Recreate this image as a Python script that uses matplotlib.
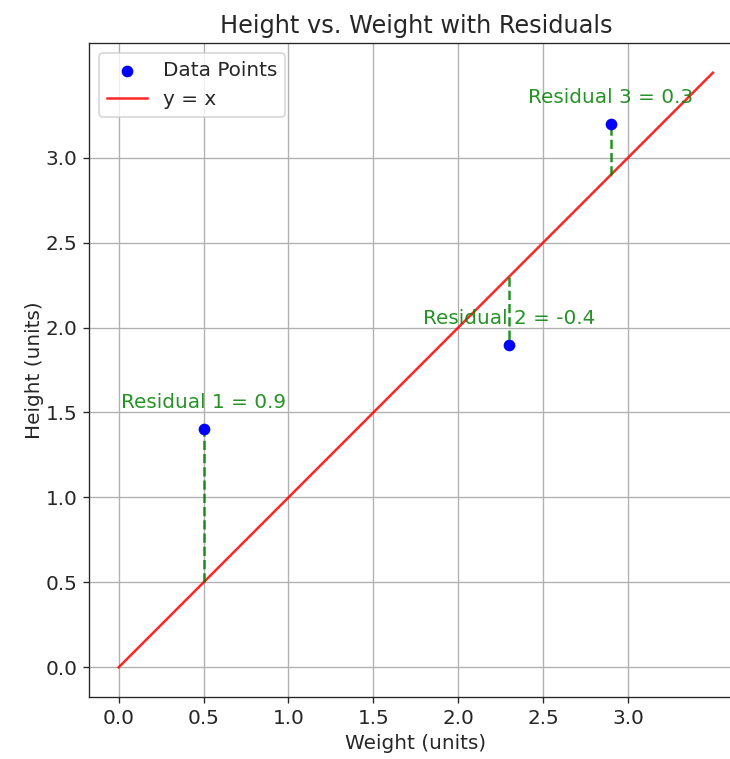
import numpy as np
import matplotlib
matplotlib.use("Agg")
import matplotlib.pyplot as plt

# data
weight = [0.5, 2.3, 2.9]
height = [1.4, 1.9, 3.2]
line_x = [0.0, 3.5]

plt.rcParams['font.size'] = 12
plt.rcParams['text.color'] = '#262626'
plt.rcParams['axes.labelcolor'] = '#262626'
plt.rcParams['xtick.color'] = '#262626'
plt.rcParams['ytick.color'] = '#262626'
plt.rcParams['axes.edgecolor'] = '#262626'

fig = plt.figure(figsize=(730 / 120, 759 / 120), dpi=120)
# reference is cropped on the right, so the axes run past the figure edge
ax = fig.add_axes([89 / 730, 62 / 759, 653.6 / 730, 654 / 759])

ax.scatter(weight, height, color='blue', label='Data Points', zorder=3)
ax.plot(line_x, line_x, color='red', label='y = x', alpha=0.85)

for i, (x, y) in enumerate(zip(weight, height)):
    fitted = x
    res = y - fitted
    ax.plot([x, x], [fitted, y], color='green', linestyle='--', linewidth=1.5, alpha=0.85)
    ax.text(x, y + 0.1, f'Residual {i + 1} = {res:.1f}', color='green',
            ha='center', va='bottom', alpha=0.85)

ax.set_xticks(np.arange(0, 3.01, 0.5))
ax.set_yticks(np.arange(0, 3.01, 0.5))
ax.set_xlim(-0.175, 3.675)
ax.set_ylim(-0.175, 3.675)
ax.set_xlabel('Weight (units)')
ax.set_ylabel('Height (units)', labelpad=1)
ax.set_title('Height vs. Weight with Residuals')
ax.grid(True)
ax.legend(loc='upper left')

fig.savefig('out.png', dpi=120)
